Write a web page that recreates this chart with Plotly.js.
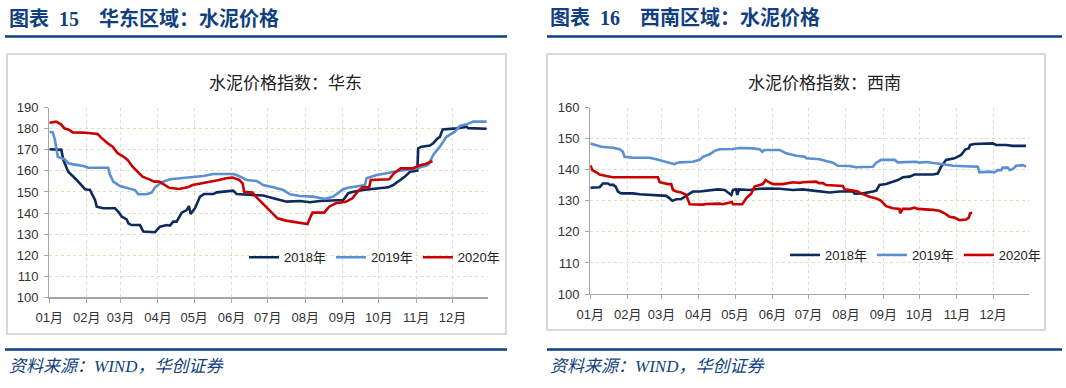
<!DOCTYPE html>
<html>
<head>
<meta charset="utf-8">
<script src="https://cdn.plot.ly/plotly-3.0.1.min.js"></script>
<style>
html,body{margin:0;padding:0;background:#fff;}
#chart{width:1066px;height:388px;}
</style>
</head>
<body>
<div id="chart"></div>
<script>
// ---------- DATA ----------
const monthDays = [0,31,59,90,120,151,181,212,243,273,304,334];
const monthLabels = ['01月','02月','03月','04月','05月','06月','07月','08月','09月','10月','11月','12月'];
const seriesNames = ['2018年','2019年','2020年'];

// 华东 (East China) – x = day of year
const hd2018Days = [0,10,11.6,15.7,22.7,29.6,33.7,37.9,39.3,44.7,54.4,57.2,60,64.1,65.5,68.2,75.1,77.9,87.6,91.7,97.3,100,102.7,105.5,109.7,113.8,115.7,117.1,120.7,124.9,128.2,135.9,138.7,149.7,152.4,155.3,169,177.3,185.6,196.7,207.7,216,224.3,235.3,243.6,247.7,251.9,260.1,265.7,274,280.9,285,290.6,294.7,298.9,304.9,305.7,308.5,315.4,318.1,321,323.7,325.9,337.5,345.8,347.1,362.4];
const hd2018Vals = [170.3,170,165.2,159.6,155.7,151.3,151,146.2,143,142.3,142.3,140.6,138.3,137,135.1,134.3,134.3,131.2,130.9,133.5,134.3,134,135.9,135.9,140.2,141.4,143.3,139.6,142.3,147.8,149,149,149.8,150.5,150.6,149,148.6,148.3,147,145.4,145.7,145.1,145.7,145.8,146.2,149.4,150.1,150.9,151.3,151.7,152.2,153.3,155.4,157.3,159.6,160.1,170.7,171.5,172,173.1,175,176.2,179.7,180.2,181,180.3,180];

const hd2019Days = [0,2.9,4.7,7,12.8,15.7,19.9,28.2,32.3,48.8,50.3,53,58.6,65.5,71,73.7,80.6,84.8,87.6,93.1,100,108.3,119.3,127.6,135.9,152.4,156.6,163.5,171.8,177.3,185.6,193.9,199.4,207.7,218.7,228.4,235.3,243.6,247.7,256,261.5,262.9,271.2,279.4,290.5,304.3,313.9,318.1,323.6,329.1,336,340.2,345.7,351.2,362.4];
const hd2019Vals = [178.6,178.3,174.7,166.7,165.5,163.6,163.1,162.3,161.5,161.5,158.1,154.9,152.8,151.7,150.9,148.9,148.9,149.7,152.2,154.6,156,156.5,157,157.6,158.5,158.5,157.7,155.7,155.2,153.3,152.2,150.9,148.9,148.1,147.8,146.7,147.8,151.3,152,152.8,153.3,156.5,158.1,158.9,160.1,161.2,162.8,167.6,171.5,176.2,178.6,181.3,182.1,183.4,183.4];

const hd2020Days = [0,5.6,9.7,12.5,16.6,19.4,30.4,40.1,42.8,48.3,52.5,56.6,62.1,64.9,69,73.2,77.3,82.8,87,91.1,95.3,99.4,107.7,114.6,118.7,127,135.3,140.8,146.3,151.9,157.4,160.1,161.5,168.4,171.2,175.3,179.5,183.6,189.1,196,204.3,214,215.9,218.1,227.8,231.9,237.4,245.7,251.2,255.4,259.5,265,266.4,273.3,281.6,285.7,291.2,300.9,307.8,311.9,317.5];
const hd2020Vals = [182.9,183.4,182.1,180.2,179.4,178.3,178.1,177.5,175.9,173.1,171.5,168.4,166.5,165.2,162,159.6,157.3,156,154.9,154.9,153.3,152,151.4,152.2,153.3,154.1,154.9,155.7,156.5,156.8,155.7,154.1,150.1,149.7,147.8,145.4,143,140.6,137.5,136.4,135.6,134.8,137.5,140.2,140.2,143,144.6,145.4,147,150.1,152.2,152.2,155.7,155.7,156,158.9,161.2,161.2,162.8,163.3,164.7];

// 西南 (Southwest)
const xn2018Days = [0,7.7,10.5,14.6,16.6,18.8,21,22.9,25.7,35.4,40.9,57.5,63,65.8,68,71.3,75.5,79.6,85.1,90.6,98.9,105.8,111.4,115,116.9,118.3,121,121.9,123.3,132.1,140.4,148.7,157,168,176.3,184.6,195.6,198.4,206.7,217.7,219.1,226,234.3,237.1,239.8,245.3,249.5,255,259.2,264.7,268.8,284,288.1,290.9,295,301.9,307.5,311.1,313.8,314.9,318.5,328.2,333.7,336.5,344.8,350.3,361.3];
const xn2018Vals = [134.2,134.4,135.6,135.6,135.1,135.2,134.6,133,132.4,132.4,132.1,131.9,131.6,130.8,130,130.5,130.6,131.7,133,133,133.3,133.7,133.5,132.4,131.9,133.5,133.7,131.9,133.7,133.5,133.9,134,133.9,133.5,133.7,133.3,133,132.7,133,133,132.3,132.4,133,133.3,135.1,135.4,136,136.7,137.6,137.8,138.5,138.5,138.8,141,143.2,143.7,144.8,146.6,146.9,148,148.3,148.3,148.5,148,148,147.7,147.7];

const xn2019Days = [0,6.4,9.1,18.8,24.3,27,28.4,35.4,49.2,54.7,60.2,65.8,69.9,71.3,74.1,85.1,90.6,93.4,98.9,103.1,107.2,118.3,123.8,134.8,140.4,142.6,144.5,157,162.5,170.8,177.7,179.1,190.1,195.6,201.2,205.3,215,220.5,234.3,237.1,241.2,252.3,255,270.2,273,278.5,284,292.3,300.6,311.6,321.3,322.7,331,335.1,337.9,340.7,342,346.2,347.6,350.3,353.1,358.6,361.3];
const xn2019Vals = [148.5,147.8,147.4,147.1,146.6,145.8,144.2,143.9,143.9,143.4,142.9,142.3,141.8,142.1,142.4,142.6,143.2,144.2,145,146.1,146.6,146.7,147,146.9,146.6,145.8,146.4,146.4,145.3,144.5,144.2,143.7,143.4,142.8,142.3,141.3,141.2,140.8,141,142.3,143.2,143.2,142.4,142.6,142.3,142.5,142.3,141.8,141.3,141.2,141,139.2,139.4,139.2,139.9,139.9,140.7,140.7,139.9,140.2,141.3,141.5,141];

const xn2020Days = [0,1.7,5,7.7,13.2,18.8,56.1,57.5,64.4,67.1,68.5,71.3,75.5,79.6,81,82.4,93.4,96.2,107.2,110,117.4,118.3,126,129.3,133.5,136.2,143.1,145.3,147.3,151.4,159.7,168,173.5,176.3,187.3,189.5,192.9,195.6,209.4,210.8,217.7,221.8,224.6,231.5,237.1,241.2,245.3,250.9,256.4,256.9,259.2,264.7,268.8,271.6,284,289.5,293.7,297.8,301.9,306.1,311.6,313.8,314.9,316.6];
const xn2020Vals = [141.5,139.9,139.2,138.5,138,137.6,137.6,136,135.4,135.4,133.5,133,132.7,131.9,130.3,128.9,128.8,129,129.1,128.9,129.6,128.9,128.9,130.8,132.4,134.6,135.4,136.7,136.2,135.4,135.4,136,135.8,136,136.2,135.7,135.7,135.1,134.8,133.7,133.3,133,132.4,131.3,130.8,130,128.3,127.6,127.4,126,127.4,127.4,127.8,127.4,127.1,126.8,126,124.9,124.6,123.8,124,124.6,126,126.2];

const headerLeft = '图表\u200215\u3000华东区域：水泥价格';
const headerRight = '图表\u200216\u3000西南区域：水泥价格';
const titleLeft = '水泥价格指数：华东';
const titleRight = '水泥价格指数：西南';
const sourceText = '资料来源：WIND，华创证券';

// ---------- STYLE ----------
const W = 1066, H = 388;
const px = x => x / W;
const py = y => 1 - y / H;
const colors = ['#0C2A5E', '#5A8FD2', '#C80000'];
const navy = '#123F80';
const tickFont = {family: 'Liberation Sans, Noto Sans CJK SC, sans-serif', size: 13, color: '#333333'};

function mk(days, vals, i, xa, ya, lg) {
  return {x: days, y: vals, type: 'scatter', mode: 'lines', name: seriesNames[i],
    xaxis: xa, yaxis: ya, legend: lg,
    line: {color: colors[i], width: 2.6}, hoverinfo: 'skip'};
}
const data = [
  mk(hd2018Days, hd2018Vals, 0, 'x', 'y', 'legend'),
  mk(hd2019Days, hd2019Vals, 1, 'x', 'y', 'legend'),
  mk(hd2020Days, hd2020Vals, 2, 'x', 'y', 'legend'),
  mk(xn2018Days, xn2018Vals, 0, 'x2', 'y2', 'legend2'),
  mk(xn2019Days, xn2019Vals, 1, 'x2', 'y2', 'legend2'),
  mk(xn2020Days, xn2020Vals, 2, 'x2', 'y2', 'legend2')
];

function xAxis(d0, d1, anchor) {
  return {domain: [px(d0), px(d1)], range: [0, 363.5], anchor: anchor,
    tickmode: 'array', tickvals: monthDays, ticktext: monthLabels,
    showgrid: true, gridcolor: '#E2DEC4', griddash: 'dot', gridwidth: 1,
    showline: true, linecolor: '#A6A6A6', linewidth: 1.3,
    ticks: 'outside', ticklen: 4, tickcolor: '#A6A6A6', tickwidth: 1,
    tickfont: tickFont, ticklabelstandoff: 4, zeroline: false, fixedrange: true};
}
function yAxis(top, bottom, r, anchor) {
  return {domain: [py(bottom), py(top)], range: r, dtick: 10, tick0: 100, anchor: anchor,
    showgrid: true, gridcolor: '#E2DEC4', griddash: 'dot', gridwidth: 1,
    showline: true, linecolor: '#A6A6A6', linewidth: 1.3,
    ticks: 'outside', ticklen: 4, tickcolor: '#A6A6A6', tickwidth: 1,
    tickfont: tickFont, ticklabelstandoff: 3, zeroline: false, fixedrange: true};
}

function hline(x0, x1, y, w) {
  return {type: 'line', xref: 'paper', yref: 'paper', x0: px(x0), x1: px(x1), y0: py(y), y1: py(y),
    line: {color: '#0B3F86', width: w}};
}
function box(x0, x1, y0, y1) {
  return {type: 'rect', xref: 'paper', yref: 'paper', x0: px(x0), x1: px(x1), y0: py(y1), y1: py(y0),
    line: {color: '#D9D9D9', width: 2}, layer: 'below'};
}
function ann(text, x, y, size, color, anchor) {
  return {text: text, xref: 'paper', yref: 'paper', x: px(x), y: py(y), xanchor: anchor, yanchor: 'middle',
    showarrow: false, font: {family: 'Liberation Serif, Noto Sans CJK SC, serif', size: size, color: color}};
}

const legendBase = {orientation: 'h', xanchor: 'left', yanchor: 'middle', bgcolor: 'rgba(0,0,0,0)',
  font: {family: 'Liberation Sans, Noto Sans CJK SC, sans-serif', size: 13, color: '#222'}, itemwidth: 30,
  tracegroupgap: 0};

const layout = {
  width: W, height: H, margin: {l: 0, r: 0, t: 0, b: 0},
  paper_bgcolor: '#fff', plot_bgcolor: 'rgba(0,0,0,0)', showlegend: true,
  xaxis: xAxis(49.3, 488, 'y'),
  yaxis: yAxis(107.7, 297.3, [100, 190], 'x'),
  xaxis2: xAxis(590.3, 1028.7, 'y2'),
  yaxis2: yAxis(107.7, 294, [100, 160], 'x2'),
  legend: Object.assign({}, legendBase, {x: px(244), y: py(257.3)}),
  legend2: Object.assign({}, legendBase, {x: px(785), y: py(255)}),
  shapes: [
    hline(5, 507, 36.5, 2.5), hline(547, 1062, 36.5, 2.5),
    hline(5, 507, 349.5, 2.5), hline(547, 1062, 349.5, 2.5),
    box(7, 506, 54, 334), box(547, 1045, 54, 330)
  ],
  annotations: [
    ann('<b>' + headerLeft + '</b>', 7, 18, 20, navy, 'left'),
    ann('<b>' + headerRight + '</b>', 548, 18, 20, navy, 'left'),
    ann(titleLeft, 285, 83, 17, '#222', 'center'),
    ann(titleRight, 824, 83, 17, '#222', 'center'),
    ann('<i>' + sourceText + '</i>', 7, 366, 17, navy, 'left'),
    ann('<i>' + sourceText + '</i>', 548, 366, 17, navy, 'left')
  ]
};

Plotly.newPlot('chart', data, layout, {staticPlot: true, displayModeBar: false});
</script>
</body>
</html>
